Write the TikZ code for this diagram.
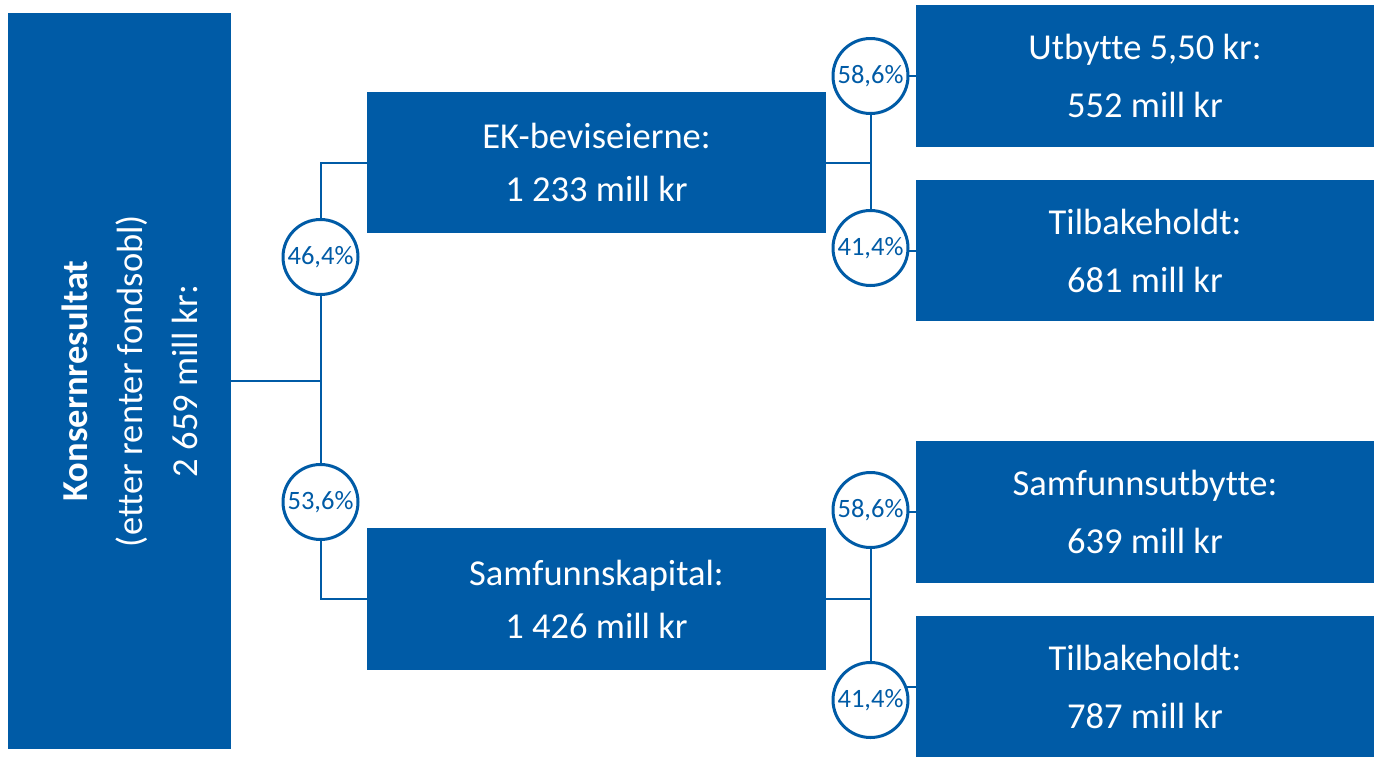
\documentclass[tikz,border=0pt]{standalone}
\usepackage{fontspec}
\setmainfont[Ligatures=NoCommon]{Carlito}
\usetikzlibrary{backgrounds}
\definecolor{sbblue}{RGB}{0,91,166}
\begin{document}
\begin{tikzpicture}[x=1pt,y=-1pt,
  box/.style={fill=sbblue, draw=none, inner sep=0pt, text=white, align=center},
  midfont/.style={font=\fontsize{36.5}{53}\selectfont},
  rightfont/.style={font=\fontsize{36.5}{58}\selectfont},
  pct/.style={circle, draw=sbblue, line width=3pt, fill=white, minimum size=75pt, inner sep=0pt, text=sbblue, font=\fontsize{26.5}{30}\selectfont},
  conn/.style={draw=sbblue, line width=2pt}]
\useasboundingbox (0,0) rectangle (1374,756);
% left box
\node[box, minimum width=223pt, minimum height=736pt] (kons) at (119.5,381) {};
\node[text=white, align=center, rotate=90, font=\fontsize{36.5}{55}\selectfont] (konstext) at (130,381)
  {{\bfseries Konsernresultat}\\(etter renter fondsobl)\\2 659 mill kr:};
% middle boxes
\node[box, midfont, minimum width=459pt, minimum height=141pt] (ek) at (596.5,162.5) {EK-beviseierne:\\1 233 mill kr};
\node[box, midfont, minimum width=459pt, minimum height=142pt] (sam) at (596.5,599) {Samfunnskapital:\\1 426 mill kr};
% right boxes
\node[box, rightfont, minimum width=458pt, minimum height=142pt] (utb) at (1145,76) {Utbytte 5,50 kr:\\552 mill kr};
\node[box, rightfont, minimum width=458pt, minimum height=141pt] (tb1) at (1145,250.5) {Tilbakeholdt:\\681 mill kr};
\node[box, rightfont, minimum width=458pt, minimum height=142pt] (sut) at (1145,512) {Samfunnsutbytte:\\639 mill kr};
\node[box, rightfont, minimum width=458pt, minimum height=142pt] (tb2) at (1145,687) {Tilbakeholdt:\\787 mill kr};
% circles
\node[pct] (c1) at (320.5,257) {46,4\%};
\node[pct] (c2) at (320.5,502) {53,6\%};
\node[pct] (c3) at (870.5,76) {58,6\%};
\node[pct] (c4) at (870.5,248) {41,4\%};
\node[pct] (c5) at (870.5,510) {58,6\%};
\node[pct] (c6) at (870.5,700) {41,4\%};
% connectors
\begin{scope}[on background layer]
\draw[conn] (kons.east) -- (kons.east -| c1.center);
\draw[conn] (ek.west) -| (c1.center) -- (c2.center) |- (sam.west);
\draw[conn] (ek.east) -- (ek.east -| c3.center);
\draw[conn] (c3.center) -- (c4.center);
\draw[conn] (utb.west) -- (utb.west -| c3.center);
\draw[conn] (tb1.west) -- (tb1.west -| c4.center);
\draw[conn] (sam.east) -- (sam.east -| c5.center);
\draw[conn] (c5.center) -- (c6.center);
\draw[conn] (sut.west) -- (sut.west -| c5.center);
\draw[conn] (tb2.west) -- (tb2.west -| c6.center);
\end{scope}
\end{tikzpicture}
\end{document}
